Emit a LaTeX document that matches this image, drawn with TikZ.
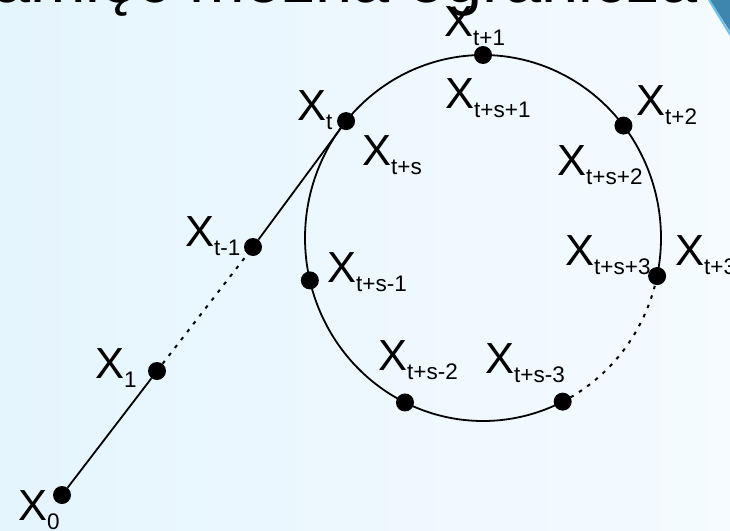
\documentclass[tikz,border=0pt]{standalone}
\usepackage{fontspec}
\setmainfont{Liberation Sans}
\newcommand\xlab[1]{X\raisebox{-9pt}{\fontsize{22.5}{22.5}\selectfont #1}}
\definecolor{bgl}{RGB}{229,245,253}
\definecolor{bgr}{RGB}{245,251,255}
\definecolor{cornerblue}{RGB}{62,134,172}
\definecolor{corneredge}{RGB}{102,192,240}
\tikzset{
  dot/.style={circle,fill=black,inner sep=0pt,minimum size=18pt},
  lab/.style={anchor=base west,inner sep=0pt,font=\fontsize{43.5}{43.5}\selectfont},
  link/.style={line width=1.8pt},
  dotlink/.style={line width=2pt,dash pattern=on 3.5pt off 6.5pt},
}
\begin{document}
\begin{tikzpicture}[x=1pt,y=-1pt]
\useasboundingbox (0,0) rectangle (730,530);
\clip (0,0) rectangle (730,530);
\shade[left color=bgl,right color=bgr] (0,0) rectangle (730,530);
% clipped title text
\node[anchor=base west,inner sep=0pt,font=\fontsize{66.7}{70}\selectfont] (title) at (-7,2) {amięć można ogranicza};
% corner decoration
\fill[cornerblue] (710,0) -- (731,0) -- (731,33) -- cycle;
\draw[corneredge,line width=2pt] (709,0) -- (731,36);
% circle
\draw[link] plot[domain=63.4:372,samples=240] ({483+178*cos(\x)},{238+183*sin(\x)});
\draw[dotlink] plot[domain=12:63.4,samples=60] ({483+178*cos(\x)},{238+183*sin(\x)});
% dots
\node[dot] (x0) at (62,495) {};
\node[dot] (x1) at (157,371) {};
\node[dot] (xtm1) at (253,247) {};
\node[dot] (xt) at ({483+178*cos(-140.3)},{238+183*sin(-140.3)}) {};
\node[dot] (xt1) at ({483+178*cos(-90)},{238+183*sin(-90)}) {};
\node[dot] (xt2) at ({483+178*cos(-37.9)},{238+183*sin(-37.9)}) {};
\node[dot] (xt3) at ({483+178*cos(12)},{238+183*sin(12)}) {};
\node[dot] (xs3) at ({483+178*cos(63.4)},{238+183*sin(63.4)}) {};
\node[dot] (xs2) at ({483+178*cos(116)},{238+183*sin(116)}) {};
\node[dot] (xs1) at ({483+178*cos(166.6)},{238+183*sin(166.6)}) {};
% connectors
\draw[link] (x0) -- (x1);
\draw[dotlink] (x1) -- (xtm1);
\draw[link] (xtm1) -- (xt);
% labels
\node[lab] (l0) at (18,520) {\xlab{0}};
\node[lab] (l1) at (95,378) {\xlab{1}};
\node[lab] (ltm1) at (185,246) {\xlab{t-1}};
\node[lab] (lt) at (297,120) {\xlab{t}};
\node[lab] (lts) at (362,165) {\xlab{t+s}};
\node[lab] (lt1) at (444,36) {\xlab{t+1}};
\node[lab] (lts1) at (445,108) {\xlab{t+s+1}};
\node[lab] (lt2) at (636,115) {\xlab{t+2}};
\node[lab] (lts2) at (557,175) {\xlab{t+s+2}};
\node[lab] (lts3) at (565,265) {\xlab{t+s+3}};
\node[lab] (lt3) at (675,265) {\xlab{t+3}};
\node[lab] (ltsm1) at (327,282) {\xlab{t+s-1}};
\node[lab] (ltsm2) at (378,370) {\xlab{t+s-2}};
\node[lab] (ltsm3) at (485,373) {\xlab{t+s-3}};
\end{tikzpicture}
\end{document}
